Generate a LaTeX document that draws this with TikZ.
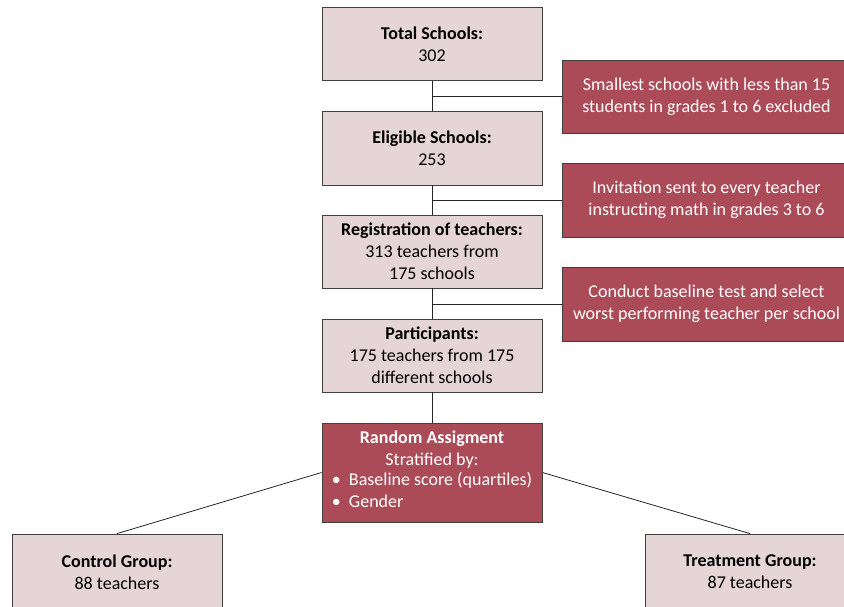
\documentclass[tikz,border=0pt]{standalone}
\usepackage{fontspec}
\setmainfont{Carlito}
\usetikzlibrary{positioning}
\definecolor{boxpink}{RGB}{230, 213, 214}
\definecolor{boxred}{RGB}{171, 75, 88}
\definecolor{boxedge}{RGB}{64, 64, 64}

\begin{document}
\begin{tikzpicture}[x=1pt, y=-1pt,
    stage/.style={draw=boxedge, fill=boxpink, line width=0.8pt, minimum width=220pt, minimum height=73pt, inner sep=0pt, align=center, font=\fontsize{18}{22}\selectfont},
    note/.style={stage, fill=boxred, text=white, minimum width=289pt},
    group/.style={stage, minimum width=210pt, minimum height=76pt},
    link/.style={draw=black!85, line width=0.8pt}]
    \clip (0, 0) rectangle (844, 607);

    % Main column
    \node[stage] (total) at (432, 44) {\textbf{Total Schools:}\\302};
    \node[stage, minimum height=74pt] (eligible) at (432, 148) {\textbf{Eligible Schools:}\\253};
    \node[stage] (registration) at (432, 251.5) {\textbf{Registration of teachers:}\\313 teachers from\\175 schools};
    \node[stage] (participants) at (432, 355.5) {\textbf{Participants:}\\175 teachers from 175\\different schools};
    \node[note, minimum width=220pt, minimum height=99pt] (random) at (432, 472.5) {\textbf{Random Assigment}\\Stratified by:\\\begin{tabular}{@{}l@{}}•\hspace{0.45em}Baseline score (quartiles)\\•\hspace{0.45em}Gender\end{tabular}};

    % Side notes
    \node[note] (excluded) at (706.5, 96.5) {Smallest schools with less than 15\\students in grades 1 to 6 excluded};
    \node[note, minimum height=74pt] (invitation) at (706.5, 200) {Invitation sent to every teacher\\instructing math in grades 3 to 6};
    \node[note, minimum height=74pt] (baseline) at (706.5, 304) {Conduct baseline test and select\\worst performing teacher per school};

    % Groups
    \node[group] (control) at (117, 572) {\textbf{Control Group:}\\88 teachers};
    \node[group] (treatment) at (750, 572) {\textbf{Treatment Group:}\\87 teachers};

    % Connectors
    \draw[link] (total) -- (eligible);
    \draw[link] (eligible) -- (registration);
    \draw[link] (registration) -- (participants);
    \draw[link] (participants) -- (random);
    \draw[link] (total.south |- excluded.west) -- (excluded.west);
    \draw[link] (eligible.south |- invitation.west) -- (invitation.west);
    \draw[link] (registration.south |- baseline.west) -- (baseline.west);
    \draw[link] (random.west) -- (control.north);
    \draw[link] (random.east) -- (treatment.north);
\end{tikzpicture}
\end{document}
